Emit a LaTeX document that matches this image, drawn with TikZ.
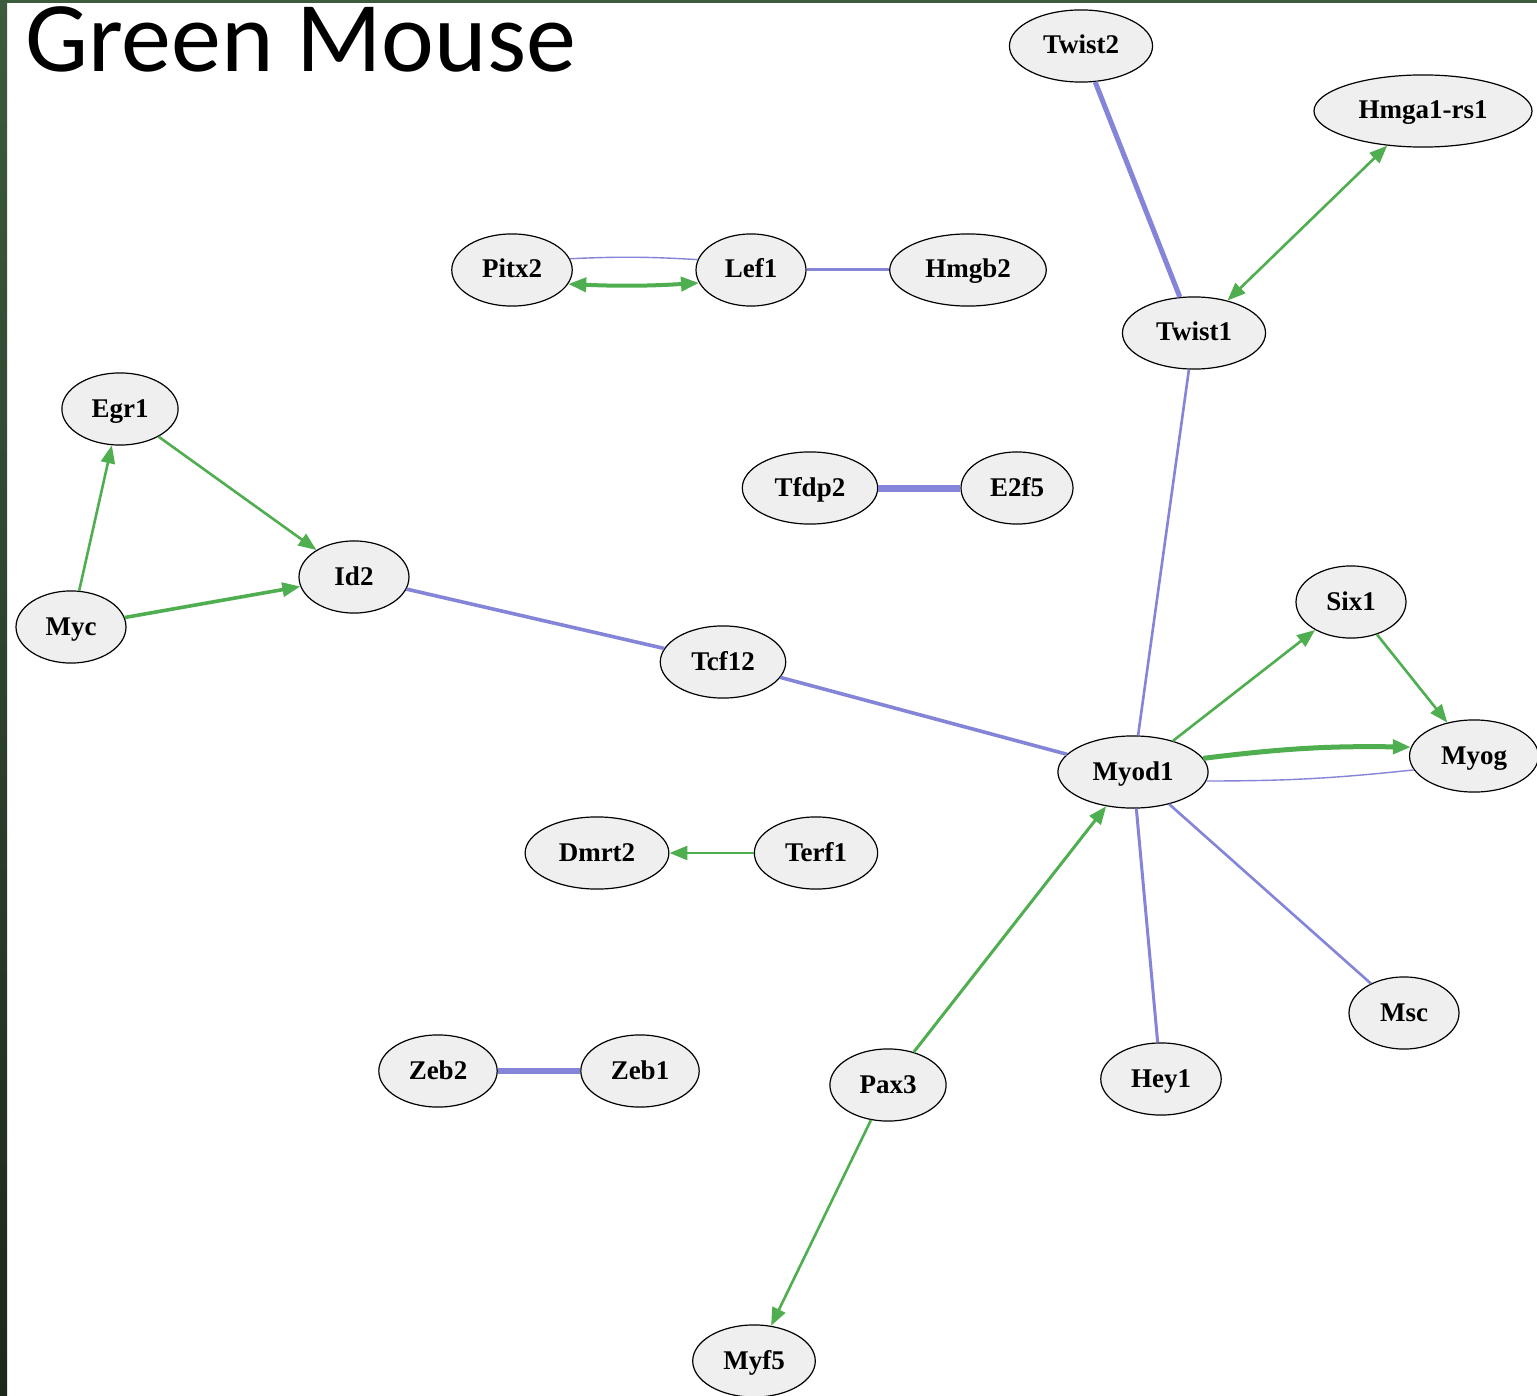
\documentclass[tikz,border=0pt]{standalone}
\usepackage{fontspec}
\setmainfont{Liberation Serif}
\newfontfamily\titlefont{Carlito}
\usetikzlibrary{shapes.geometric,arrows.meta}
\definecolor{genefill}{HTML}{EFEFEF}
\definecolor{bindblue}{HTML}{8484D8}
\definecolor{regreen}{HTML}{4FAE4F}
\definecolor{slidegreen}{HTML}{3D5B3D}
\definecolor{slidedark}{HTML}{1C281C}

\begin{document}
\begin{tikzpicture}[x=0.5pt,y=0.5pt,
  gene/.style={ellipse,draw=black,line width=0.6pt,fill=genefill,inner xsep=6.3pt,inner ysep=6.75pt,
    minimum width=55pt,font=\fontsize{13.5}{15}\selectfont\bfseries,text height=10pt,text depth=2pt},
  bind/.style={draw=bindblue,line width=1.5pt},
  reg/.style={draw=regreen,line width=1.3pt,-{Triangle[length=9pt,width=7pt]}},
  bireg/.style={draw=regreen,line width=1.3pt,{Triangle[length=9pt,width=7pt]}-{Triangle[length=9pt,width=7pt]}}]
   \useasboundingbox (0,0) rectangle (1537,-1396);
   \fill[white] (0,0) rectangle (1537,-1396);
   \shade[top color=slidegreen,bottom color=slidedark] (0,0) rectangle (7,-1396);
   \fill[slidegreen] (0,0) rectangle (1537,-3);
   \node[anchor=base west,font=\titlefont\fontsize{50}{60}\selectfont] (title) at (18,-72) {Green Mouse};

   \node[gene] (twisttwo) at (1081,-46) {Twist2};
   \node[gene] (hmga) at (1423,-111) {Hmga1-rs1};
   \node[gene] (pitx) at (512,-270) {Pitx2};
   \node[gene] (lef) at (751,-270) {Lef1};
   \node[gene] (hmgb) at (968,-270) {Hmgb2};
   \node[gene] (twistone) at (1194,-333) {Twist1};
   \node[gene] (egr) at (120,-409) {Egr1};
   \node[gene] (tfdp) at (810,-488) {Tfdp2};
   \node[gene] (etwof) at (1017,-488) {E2f5};
   \node[gene] (idtwo) at (354,-577) {Id2};
   \node[gene] (myc) at (71,-627) {Myc};
   \node[gene] (tcf) at (723,-662) {Tcf12};
   \node[gene] (six) at (1351,-602) {Six1};
   \node[gene] (myog) at (1474,-756) {Myog};
   \node[gene] (myod) at (1133,-772) {Myod1};
   \node[gene] (dmrt) at (597,-853) {Dmrt2};
   \node[gene] (terf) at (816,-853) {Terf1};
   \node[gene] (msc) at (1404,-1013) {Msc};
   \node[gene] (zebtwo) at (438,-1071) {Zeb2};
   \node[gene] (zebone) at (640,-1071) {Zeb1};
   \node[gene] (pax) at (888,-1085) {Pax3};
   \node[gene] (hey) at (1161,-1079) {Hey1};
   \node[gene] (myf) at (754,-1361) {Myf5};

   \draw[bind,line width=2.5pt] (twisttwo) -- (twistone);
   \draw[bireg] (twistone) -- (hmga);
   \draw[bind,line width=0.7pt] (pitx.11) to[bend left=3] (lef.169);
   \draw[bireg,line width=2pt] (pitx.-14) to[bend right=3] (lef.194);
   \draw[bind] (lef) -- (hmgb);
   \draw[bind,line width=1.3pt] (twistone) -- (myod);
   \draw[bind,line width=3.5pt] (tfdp) -- (etwof);
   \draw[reg] (egr) -- (idtwo);
   \draw[reg] (myc) -- (egr);
   \draw[reg,line width=1.8pt] (myc) -- (idtwo);
   \draw[bind,line width=1.8pt] (idtwo) -- (tcf);
   \draw[bind,line width=1.8pt] (tcf) -- (myod);
   \draw[reg] (myod) -- (six);
   \draw[reg] (six) -- (myog);
   \draw[reg,line width=2.5pt] (myod.11) to[bend left=4] (myog.172);
   \draw[bind,line width=0.7pt] (myod.-7) to[bend right=3] (myog.193);
   \draw[reg] (terf) -- (dmrt);
   \draw[bind,line width=1.3pt] (myod) -- (msc);
   \draw[bind] (myod) -- (hey);
   \draw[reg,line width=1.5pt] (pax) -- (myod);
   \draw[reg] (pax) -- (myf);
   \draw[bind,line width=3pt] (zebtwo) -- (zebone);
\end{tikzpicture}
\end{document}
